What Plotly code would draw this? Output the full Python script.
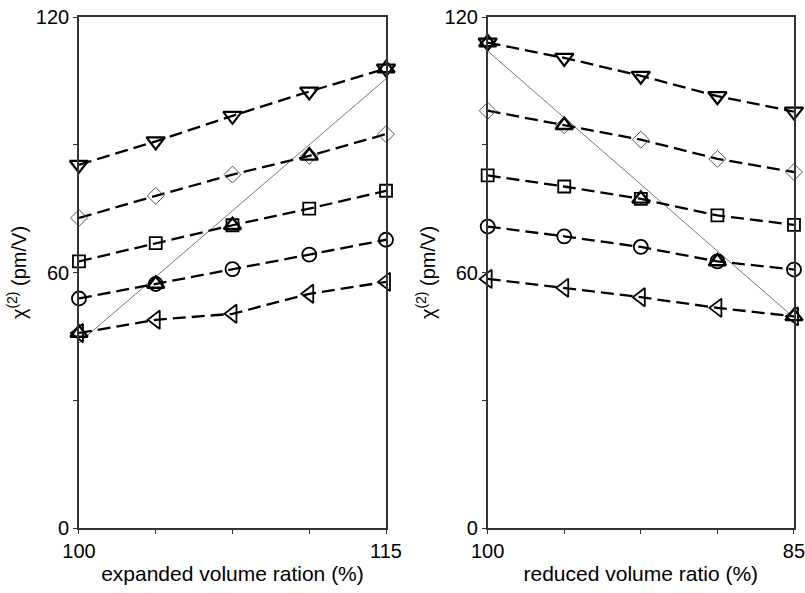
import plotly.graph_objects as go

# ---- data ----
x_exp = [100, 103.75, 107.5, 111.25, 115]
x_red = [100, 96.25, 92.5, 88.75, 85]

exp_down = [85.3, 90.8, 96.8, 102.5, 107.9]
exp_diam = [72.8, 78.0, 83.0, 87.4, 92.5]
exp_sq = [62.6, 66.9, 71.1, 75.0, 79.2]
exp_circ = [53.9, 57.3, 60.8, 64.2, 67.7]
exp_left = [45.8, 48.9, 50.3, 55.0, 57.8]
exp_up = [45.8, 57.3, 71.1, 87.4, 107.9]
exp_fit_x = [100, 115]
exp_fit_y = [43.5, 105.5]

red_down = [114.0, 110.4, 106.2, 101.4, 97.8]
red_diam = [98.0, 94.6, 91.2, 86.7, 83.6]
red_sq = [82.8, 80.2, 77.3, 73.4, 71.2]
red_circ = [70.8, 68.5, 66.0, 62.6, 60.7]
red_left = [58.5, 56.4, 54.2, 51.7, 49.7]
red_up = [114.0, 94.6, 77.3, 62.6, 49.7]
red_fit_x = [100, 85]
red_fit_y = [112.0, 49.4]

y_ticks = [0, 30, 60, 90, 120]
y_ticktext = ["0", "", "60", "", "120"]
exp_ticktext = ["100", "", "", "", "115"]
red_ticktext = ["100", "", "", "", "85"]

FONT = "Liberation Sans, Arial, sans-serif"
DASH = "13px,6px"

fig = go.Figure()

def add_panel(xs, series, up, fitx, fity, xa, ya):
    # thin fit line
    fig.add_trace(go.Scatter(x=fitx, y=fity, mode="lines", xaxis=xa, yaxis=ya,
                             line=dict(color="#555", width=0.8), showlegend=False,
                             cliponaxis=False, hoverinfo="skip"))
    for ys, sym, size, lw, col in series:
        fig.add_trace(go.Scatter(
            x=xs, y=ys, mode="lines", xaxis=xa, yaxis=ya,
            line=dict(color="black", width=2.3, dash=DASH),
            showlegend=False, cliponaxis=False))
        fig.add_trace(go.Scatter(
            x=xs, y=ys, mode="markers", xaxis=xa, yaxis=ya,
            marker=dict(symbol=sym, size=size, color=col,
                        line=dict(color=col, width=lw)),
            showlegend=False, cliponaxis=False))
    fig.add_trace(go.Scatter(
        x=xs, y=up, mode="markers", xaxis=xa, yaxis=ya,
        marker=dict(symbol="triangle-up-open", size=15, color="black",
                    line=dict(color="black", width=2.4)),
        showlegend=False, cliponaxis=False))

def series_list(down, diam, sq, circ, left):
    return [
        (down, "triangle-down-open", 16, 2.2, "black"),
        (diam, "diamond-open", 13, 1, "#555"),
        (sq, "square-open", 12, 1.8, "black"),
        (circ, "circle-open", 14, 1.8, "black"),
        (left, "triangle-left-open", 16, 1.8, "black"),
    ]

add_panel(x_exp, series_list(exp_down, exp_diam, exp_sq, exp_circ, exp_left),
          exp_up, exp_fit_x, exp_fit_y, "x", "y")
add_panel(x_red, series_list(red_down, red_diam, red_sq, red_circ, red_left),
          red_up, red_fit_x, red_fit_y, "x2", "y2")

ax_common = dict(showline=True, linecolor="#333", linewidth=1.5, mirror=True,
                 ticks="outside", ticklen=4, tickcolor="#333", showgrid=False,
                 zeroline=False, automargin=False, ticklabeloverflow="allow",
                 tickfont=dict(size=20, color="black", family=FONT))

ytitle = dict(text="χ<sup>(2)</sup> (pm/V)", font=dict(size=20, color="black", family=FONT),
              standoff=4)

fig.update_layout(
    width=805, height=593,
    margin=dict(l=0, r=0, t=0, b=0),
    paper_bgcolor="white", plot_bgcolor="white",
    font=dict(family=FONT, color="black"),
    xaxis=dict(domain=[0.0981, 0.4795], range=[100, 115], tickmode="array",
               tickvals=x_exp, ticktext=exp_ticktext, anchor="y",
               title=dict(text="expanded volume ration (%)",
                          font=dict(size=21, color="black", family=FONT), standoff=6),
               **ax_common),
    yaxis=dict(domain=[0.1096, 0.9713], range=[0, 120], tickmode="array",
               tickvals=y_ticks, ticktext=y_ticktext, anchor="x",
               title=ytitle, **ax_common),
    xaxis2=dict(domain=[0.6058, 0.9863], range=[100, 85], tickmode="array",
                tickvals=x_red, ticktext=red_ticktext, anchor="y2",
                title=dict(text="reduced volume ratio (%)",
                           font=dict(size=21, color="black", family=FONT), standoff=6),
                **ax_common),
    yaxis2=dict(domain=[0.1096, 0.9713], range=[0, 120], tickmode="array",
                tickvals=y_ticks, ticktext=y_ticktext, anchor="x2",
                title=ytitle, **ax_common),
)

fig.write_html("out.html")
